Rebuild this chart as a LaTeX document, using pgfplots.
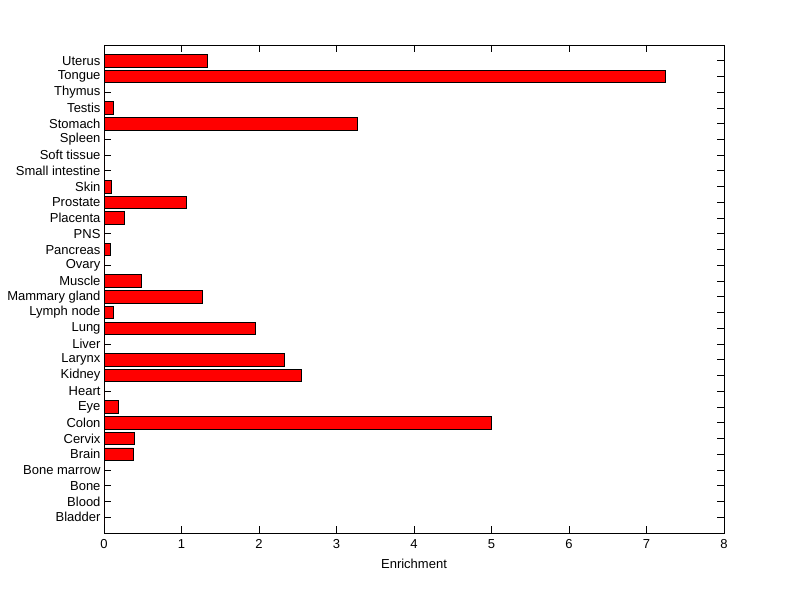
\documentclass[border=0pt]{standalone}
\usepackage{fontspec}
\setmainfont{Liberation Sans}
\usepackage{pgfplots}
\pgfplotsset{compat=1.18}
\begin{document}
\fontsize{13bp}{15bp}\selectfont
\begin{tikzpicture}[x=1bp,y=1bp]
\path[use as bounding box, fill=white] (0,0) rectangle (800,599);
\begin{axis}[
  at={(104bp,66bp)}, anchor=south west,
  scale only axis, width=620bp, height=488bp,
  xbar, bar width=0.8, bar shift=0pt,
  xmin=0, xmax=8, ymin=0, ymax=31,
  xtick={0,1,...,8},
  ytick={1,...,30},
  yticklabels={Bladder,Blood,Bone,Bone marrow,Brain,Cervix,Colon,Eye,Heart,Kidney,Larynx,Liver,Lung,Lymph node,Mammary gland,Muscle,Ovary,Pancreas,PNS,Placenta,Prostate,Skin,Small intestine,Soft tissue,Spleen,Stomach,Testis,Thymus,Tongue,Uterus},
  tick align=inside,
  major tick length=7bp,
  tick style={black, line width=0.9bp},
  axis line style={line width=0.9bp},
  xlabel={Enrichment},
  xlabel style={yshift=-1bp},
  xticklabel style={yshift=-2bp},
  /pgf/number format/assume math mode=true,
  tick label style={font=\fontsize{13bp}{15bp}\selectfont},
  label style={font=\fontsize{13bp}{15bp}\selectfont},
  yticklabel style={xshift=1bp},
]
\addplot[fill=red, draw=black, line width=0.9bp] coordinates {
(0,1) (0,2) (0,3) (0,4) (0.38,5) (0.39,6) (5.0,7) (0.18,8) (0,9) (2.55,10)
(2.33,11) (0,12) (1.95,13) (0.12,14) (1.27,15) (0.48,16) (0,17) (0.08,18) (0,19) (0.26,20)
(1.07,21) (0.09,22) (0,23) (0,24) (0,25) (3.27,26) (0.12,27) (0,28) (7.24,29) (1.33,30)
};
\end{axis}
\end{tikzpicture}
\end{document}
